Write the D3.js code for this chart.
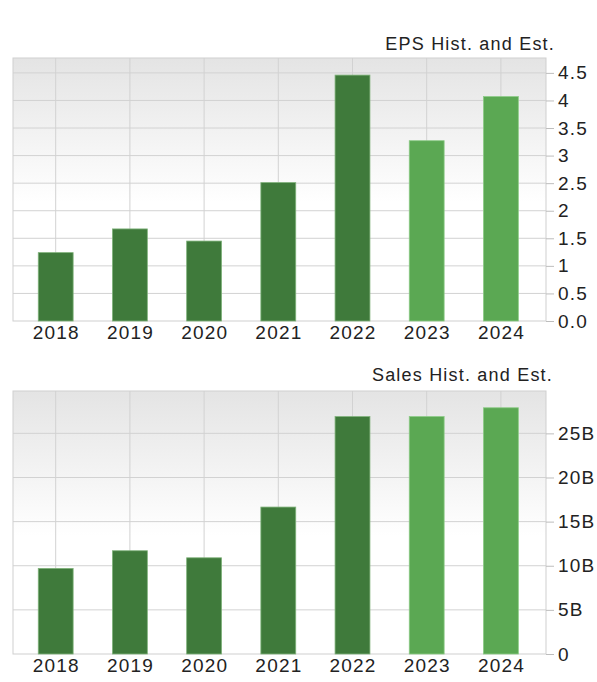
<!DOCTYPE html>
<html>
<head>
<meta charset="utf-8">
<script src="https://cdn.jsdelivr.net/npm/d3@7"></script>
<style>
  body { margin: 0; background: #fff; }
  text { font-family: "Liberation Sans", Arial, sans-serif; fill: #222; }
</style>
</head>
<body>
<svg id="chart" width="597" height="682"></svg>
<script>
// values
let years = ["2018", "2019", "2020", "2021", "2022", "2023", "2024"];
let isEstimate = [false, false, false, false, false, true, true];
let epsValues = [1.24, 1.67, 1.45, 2.51, 4.46, 3.27, 4.07];
let salesValues = [9.7, 11.7, 10.9, 16.65, 26.9, 26.9, 27.9]; // billions
let epsTicks = [0, 0.5, 1, 1.5, 2, 2.5, 3, 3.5, 4, 4.5];
let epsTickLabels = ["0.0", "0.5", "1", "1.5", "2", "2.5", "3", "3.5", "4", "4.5"];
let salesTicks = [0, 5, 10, 15, 20, 25];
let salesTickLabels = ["0", "5B", "10B", "15B", "20B", "25B"];

let svg = d3.select("#chart");

let defs = svg.append("defs");
let grad = defs.append("linearGradient")
	.attr("id", "plotBg")
	.attr("x1", 0).attr("y1", 0).attr("x2", 0).attr("y2", 1);
grad.append("stop").attr("offset", "0%").attr("stop-color", "#e4e4e4");
grad.append("stop").attr("offset", "55%").attr("stop-color", "#ffffff");
grad.append("stop").attr("offset", "100%").attr("stop-color", "#ffffff");

function drawBarPanel(g, values, ticks, tickLabels, yMax, title, box){
	let x = d3.scaleBand()
		.domain(years)
		.range([box.gridLeft, box.gridRight])
		.paddingInner(0.53)
		.paddingOuter(0.265);

	let y = d3.scaleLinear()
		.domain([0, yMax])
		.range([box.bottom, box.top]);

	g.append("rect")
		.attr("x", box.left)
		.attr("y", box.top)
		.attr("width", box.right - box.left)
		.attr("height", box.bottom - box.top)
		.attr("fill", "url(#plotBg)");

	// horizontal grid
	g.append("g").selectAll("line")
		.data(ticks.filter(t => t > 0))
		.join("line")
		.attr("x1", box.left)
		.attr("x2", box.right)
		.attr("y1", d => y(d))
		.attr("y2", d => y(d))
		.attr("stroke", "#d2d2d2")
		.attr("stroke-width", 1);

	// vertical grid at category centres
	g.append("g").selectAll("line")
		.data(years)
		.join("line")
		.attr("x1", d => x(d) + x.bandwidth()/2)
		.attr("x2", d => x(d) + x.bandwidth()/2)
		.attr("y1", box.top)
		.attr("y2", box.bottom)
		.attr("stroke", "#d2d2d2")
		.attr("stroke-width", 1);

	g.append("rect")
		.attr("x", box.left)
		.attr("y", box.top)
		.attr("width", box.right - box.left)
		.attr("height", box.bottom - box.top)
		.attr("fill", "none")
		.attr("stroke", "#cfcfcf")
		.attr("stroke-width", 1);

	g.append("g").selectAll("rect")
		.data(values)
		.join("rect")
		.attr("x", (d, i) => x(years[i]))
		.attr("y", d => y(d))
		.attr("width", x.bandwidth())
		.attr("height", d => y(0) - y(d))
		.attr("fill", (d, i) => isEstimate[i] ? "#5ba853" : "#3f7a3b")
		.attr("stroke", (d, i) => isEstimate[i] ? "#8ccb86" : "#7fb27a")
		.attr("stroke-width", 0.8);

	// right axis
	let axis = g.append("g")
		.attr("transform", "translate(" + box.right + ",0)")
		.call(d3.axisRight(y)
			.tickValues(ticks)
			.tickFormat((d, i) => tickLabels[i])
			.tickSize(8)
			.tickPadding(4))
		.call(g => g.select(".domain").remove());
	axis.selectAll(".tick line").attr("stroke", "#bdbdbd");
	axis.selectAll(".tick text")
		.attr("fill", "#222")
		.style("font-size", "19px")
		.style("letter-spacing", "1.2px")
		.style("font-family", "'Liberation Sans', Arial, sans-serif");

	g.append("g").selectAll("text")
		.data(years)
		.join("text")
		.attr("x", d => x(d) + x.bandwidth()/2 + 0.6)
		.attr("y", box.bottom + 18)
		.attr("text-anchor", "middle")
		.style("font-size", "19px")
		.style("letter-spacing", "1.2px")
		.text(d => d);

	g.append("text")
		.attr("x", box.titleX)
		.attr("y", box.titleY)
		.attr("text-anchor", "end")
		.style("font-size", "18px")
		.style("letter-spacing", "1.2px")
		.text(title);
}

drawBarPanel(svg.append("g"), epsValues, epsTicks, epsTickLabels, 4.77, "EPS Hist. and Est.",
	{"left": 13, "right": 546, "top": 58, "bottom": 321, "gridLeft": 18.6, "gridRight": 538, "titleX": 555, "titleY": 50});

drawBarPanel(svg.append("g"), salesValues, salesTicks, salesTickLabels, 29.8, "Sales Hist. and Est.",
	{"left": 13, "right": 546, "top": 391, "bottom": 654, "gridLeft": 18.6, "gridRight": 538, "titleX": 553, "titleY": 381});
</script>
</body>
</html>
